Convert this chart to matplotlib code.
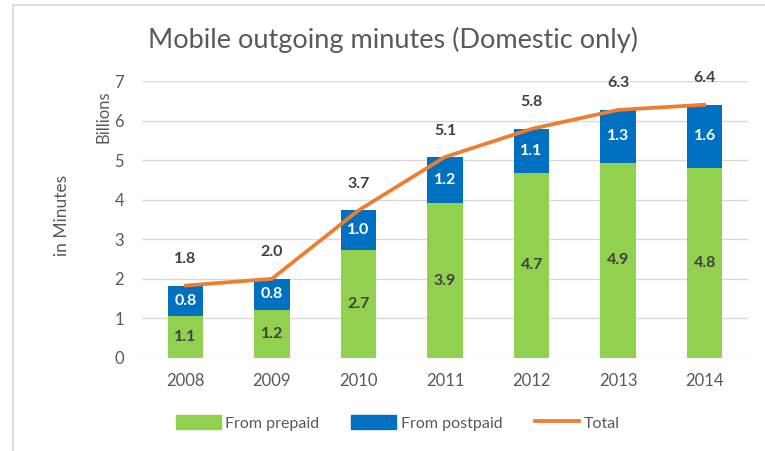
import matplotlib
matplotlib.use("Agg")
import matplotlib.pyplot as plt
from matplotlib.patches import Patch, Rectangle
from matplotlib.lines import Line2D
import numpy as np

plt.rcParams['font.family'] = ['Lato', 'DejaVu Sans']

years = ["2008", "2009", "2010", "2011", "2012", "2013", "2014"]
prepaid = [1.07, 1.22, 2.73, 3.91, 4.68, 4.94, 4.81]
postpaid = [0.76, 0.78, 1.00, 1.17, 1.11, 1.33, 1.59]
total = [a + b for a, b in zip(prepaid, postpaid)]

green = "#92D050"
blue = "#0070C0"
orange = "#ED7D31"
grey_txt = "#595959"
dark_txt = "#404040"

fig = plt.figure(figsize=(7.65, 4.51), dpi=100)
ax = fig.add_axes([142 / 765, 1 - 358 / 451, 606 / 765, 277 / 451])

x = np.arange(len(years))
ax.bar(x, prepaid, width=0.41, color=green, zorder=2)
ax.bar(x, postpaid, width=0.41, bottom=prepaid, color=blue, zorder=2)
ax.plot(x, total, color=orange, lw=2.7, zorder=3, solid_capstyle="round")

# labels
for i in range(len(years)):
    ax.text(x[i], prepaid[i] / 2, f"{prepaid[i]:.1f}", ha="center", va="center",
            color=dark_txt, fontsize=11.5, fontweight="bold", zorder=4)
    ax.text(x[i], prepaid[i] + postpaid[i] / 2, f"{postpaid[i]:.1f}", ha="center",
            va="center", color="white", fontsize=11.5, fontweight="bold", zorder=4)
    ax.annotate(f"{total[i]:.1f}", (x[i], total[i]), xytext=(0, 19),
                textcoords="offset points", ha="center", va="center",
                color=dark_txt, fontsize=11.5, fontweight="bold", zorder=4)

ax.set_xlim(-0.5, len(years) - 0.5)
ax.set_ylim(0, 7)
ax.set_yticks(range(8))
ax.set_xticks(x)
ax.set_xticklabels(years)
ax.tick_params(axis="both", length=0, labelsize=12, colors=grey_txt)
ax.tick_params(axis="x", pad=11)
ax.tick_params(axis="y", pad=13)
ax.grid(axis="y", color="#D9D9D9", lw=1, zorder=0)
for s in ax.spines.values():
    s.set_visible(False)

fig.text(393 / 765, 1 - 40 / 451, "Mobile outgoing minutes (Domestic only)",
         ha="center", va="center", fontsize=19.5, color=grey_txt)
fig.text(62 / 765, 1 - 215 / 451, "in Minutes", rotation=90, ha="center",
         va="center", fontsize=12.5, color=grey_txt)
fig.text(103 / 765, 1 - 117 / 451, "Billions", rotation=90, ha="center",
         va="center", fontsize=12, color=grey_txt)

handles = [Patch(color=green), Patch(color=blue),
           Line2D([0], [0], color=orange, lw=2.7)]
fig.legend(handles, ["From prepaid", "From postpaid", "Total"],
           loc="center", bbox_to_anchor=(398 / 765, 1 - 423 / 451), ncol=3,
           frameon=False, fontsize=11.5, labelcolor=grey_txt,
           handlelength=2.8, handleheight=0.9, handletextpad=0.3,
           columnspacing=2.0)

# chart border
fig.add_artist(Rectangle((13 / 765, -0.1), 1.1, 1 - 5 / 451 + 0.1,
                         transform=fig.transFigure, fill=False,
                         edgecolor="#D9D9D9", lw=1.2))

fig.savefig("out.png", dpi=100)
